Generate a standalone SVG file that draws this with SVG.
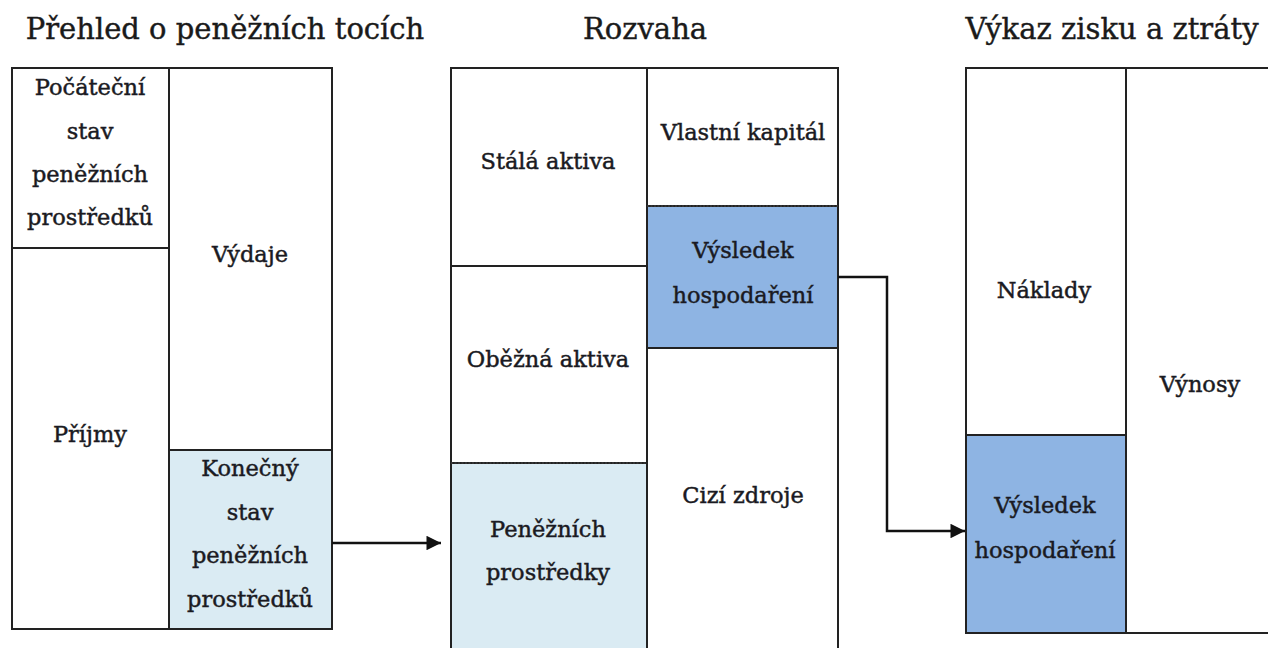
<svg xmlns="http://www.w3.org/2000/svg" width="1268" height="648" viewBox="0 0 1268 648">
<style>
.t{font-family:"DejaVu Serif","Liberation Serif",serif;font-size:29px;fill:#1a1a1a;stroke:#1a1a1a;stroke-width:0.4;text-anchor:middle}
.l{font-family:"DejaVu Serif","Liberation Serif",serif;font-size:22.5px;fill:#1a1a22;stroke:#1a1a22;stroke-width:0.45;text-anchor:middle}
.b{fill:#fff;stroke:#222;stroke-width:2}
.lb{fill:#daebf3;stroke:#222;stroke-width:2}
.db{fill:#8eb4e3;stroke:#222;stroke-width:2}
.dot{stroke:#333;stroke-width:2;stroke-dasharray:2 1.5;fill:none}
.c{fill:none;stroke:#111;stroke-width:2.5}
</style>
<defs>
<marker id="ah" viewBox="0 0 10 10" refX="10" refY="5" markerWidth="6.4" markerHeight="5.8" orient="auto" markerUnits="strokeWidth"><path d="M0,0 L10,5 L0,10 z" fill="#111"/></marker>
</defs>
<rect width="1268" height="648" fill="#fff"/>
<g id="titles">
<text class="t" x="225" y="39">Přehled o peněžních tocích</text>
<text class="t" x="645" y="39">Rozvaha</text>
<text class="t" x="1112" y="39">Výkaz zisku a ztráty</text>
</g>
<g id="cashflow">
<g id="pocatecni"><rect class="b" x="12" y="68" width="157" height="180"/>
<text class="l" x="90" y="95">Počáteční</text><text class="l" x="90" y="139">stav</text><text class="l" x="90" y="182">peněžních</text><text class="l" x="90" y="225">prostředků</text></g>
<g id="prijmy"><rect class="b" x="12" y="248" width="157" height="381"/><text class="l" x="90" y="442">Příjmy</text></g>
<g id="vydaje"><rect class="b" x="169" y="68" width="163" height="382"/><text class="l" x="250" y="262">Výdaje</text></g>
<g id="konecny"><rect class="lb" x="169" y="450" width="163" height="179"/>
<text class="l" x="250" y="476">Konečný</text><text class="l" x="250" y="520">stav</text><text class="l" x="250" y="563">peněžních</text><text class="l" x="250" y="607">prostředků</text></g>
</g>
<g id="rozvaha">
<g id="stala"><rect class="b" x="451" y="68" width="196" height="198"/><text class="l" x="548" y="169">Stálá aktiva</text></g>
<g id="obezna"><rect class="b" x="451" y="266" width="196" height="197"/><text class="l" x="548" y="367">Oběžná aktiva</text></g>
<g id="penezni"><rect x="451" y="463" width="196" height="200" fill="#daebf3" stroke="#222" stroke-width="2"/>
<line class="dot" x1="451" y1="463" x2="647" y2="463"/>
<text class="l" x="548" y="537">Peněžních</text><text class="l" x="548" y="580">prostředky</text></g>
<g id="vlastni"><rect class="b" x="647" y="68" width="191" height="138"/><text class="l" x="743" y="140">Vlastní kapitál</text></g>
<g id="vysledek1"><rect class="db" x="647" y="206" width="191" height="142"/>
<line class="dot" x1="647" y1="206" x2="838" y2="206"/>
<text class="l" x="743" y="258">Výsledek</text><text class="l" x="743" y="303">hospodaření</text></g>
<g id="cizi"><rect class="b" x="647" y="348" width="191" height="315"/><text class="l" x="743" y="503">Cizí zdroje</text></g>
</g>
<g id="vzz">
<g id="naklady"><rect class="b" x="966" y="68" width="160" height="367"/><text class="l" x="1044" y="298">Náklady</text></g>
<g id="vysledek2"><rect class="db" x="966" y="435" width="160" height="198"/>
<text class="l" x="1045" y="513">Výsledek</text><text class="l" x="1045" y="558">hospodaření</text></g>
<g id="vynosy"><rect class="b" x="1126" y="68" width="160" height="565"/><text class="l" x="1200" y="392">Výnosy</text></g>
</g>
<g id="connectors">
<path class="c" d="M332,543 H441" marker-end="url(#ah)"/>
<path class="c" d="M838,277 H887 V531 H965" marker-end="url(#ah)"/>
</g>
</svg>
